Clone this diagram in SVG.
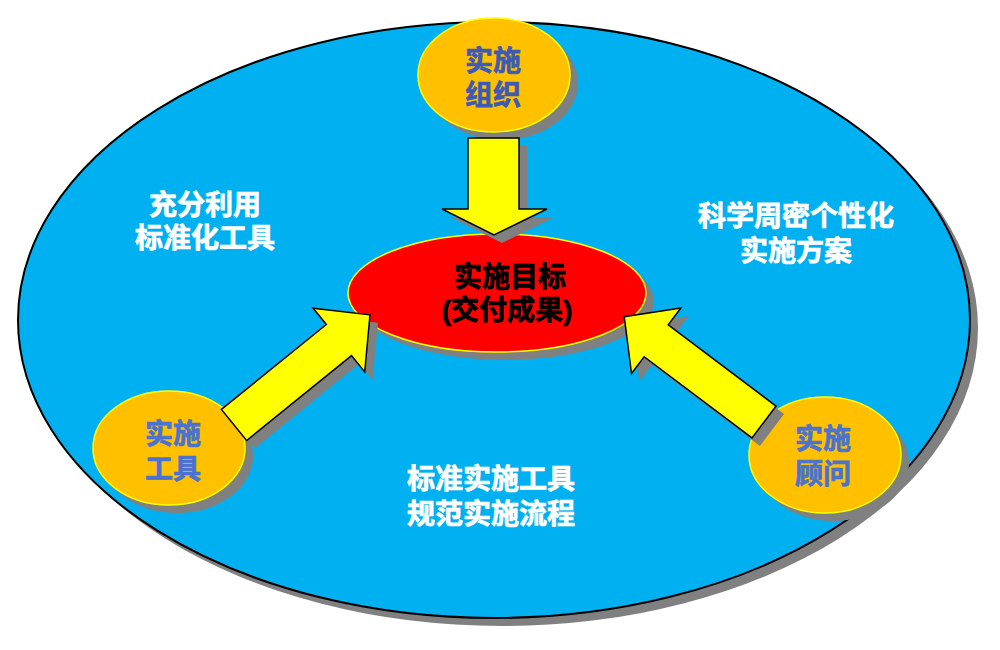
<svg xmlns="http://www.w3.org/2000/svg" width="1000" height="650" viewBox="0 0 1000 650">
<style>
.shadow{fill:#808080;stroke:none}
.node{fill:#ffc000;stroke:#ffff00;stroke-width:1.5}
.goal{fill:#ff0000;stroke:#ffff00;stroke-width:1.5}
.arrow{fill:#ffff00;stroke:#000000;stroke-width:1.5;stroke-linejoin:miter}
.t{font-family:"Liberation Sans","Noto Sans CJK SC",sans-serif;font-weight:bold;font-size:28px;text-anchor:middle;stroke-width:0.7}
.w{fill:#ffffff;stroke:#ffffff}
.b1{fill:#3d5ab5;stroke:#3d5ab5}
.b2{fill:#4a72d0;stroke:#4a72d0}
.k{fill:#000000;stroke:#000000}
</style>
<defs>
<polygon id="diag" points="0,-20 135,-20 135,-41 175,0 135,41 135,20 0,20"/>
</defs>
<rect width="1000" height="650" fill="#ffffff"/>
<g id="background">
<ellipse class="shadow" cx="502" cy="328" rx="476" ry="298"/>
<ellipse cx="494" cy="320" rx="476" ry="298" fill="#00b0f0" stroke="#000000" stroke-width="2"/>
</g>
<g id="labels">
<text class="t w" x="205" y="215">充分利用</text>
<text class="t w" x="205" y="248">标准化工具</text>
<text class="t w" x="796" y="226">科学周密个性化</text>
<text class="t w" x="796" y="261">实施方案</text>
<text class="t w" x="491" y="489">标准实施工具</text>
<text class="t w" x="491" y="524">规范实施流程</text>
</g>
<g id="goal">
<ellipse class="shadow" cx="505" cy="301" rx="149" ry="59"/>
<ellipse class="goal" cx="497" cy="293" rx="149" ry="59"/>
<text class="t k" x="510" y="287">实施目标</text>
<text class="t k" x="507" y="320">(交付成果)</text>
</g>
<g id="node-org">
<ellipse class="shadow" cx="502" cy="83" rx="76" ry="57"/>
<ellipse class="node" cx="494" cy="75" rx="76" ry="57"/>
<text class="t b1" x="493" y="71">实施</text>
<text class="t b1" x="493" y="105">组织</text>
</g>
<g id="node-tools">
<ellipse class="shadow" cx="177" cy="456" rx="76" ry="57"/>
<ellipse class="node" cx="169" cy="448" rx="76" ry="57"/>
<text class="t b2" x="173" y="444">实施</text>
<text class="t b2" x="173" y="479">工具</text>
</g>
<g id="node-consultant">
<ellipse class="shadow" cx="833" cy="463" rx="76" ry="58"/>
<ellipse class="node" cx="825" cy="455" rx="76" ry="58"/>
<text class="t b2" x="823" y="449">实施</text>
<text class="t b2" x="823" y="484">顾问</text>
</g>
<g id="connectors">
<polygon class="shadow" points="476,146 527,146 527,217 555,217 502,243 450,217 476,217"/>
<polygon class="arrow" points="468,138 519,138 519,209 547,209 494,235 442,209 468,209"/>
<use href="#diag" class="shadow" transform="translate(242,433) rotate(-39)"/>
<use href="#diag" class="arrow" transform="translate(234,425) rotate(-39)"/>
<use href="#diag" class="shadow" transform="translate(772,430) rotate(-143)"/>
<use href="#diag" class="arrow" transform="translate(764,422) rotate(-143)"/>
</g>
</svg>
